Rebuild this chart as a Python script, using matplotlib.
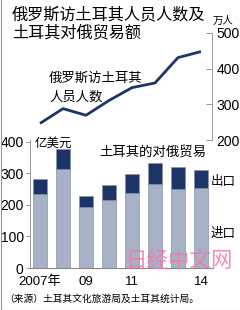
import matplotlib
matplotlib.use("Agg")
import matplotlib.pyplot as plt
from matplotlib.lines import Line2D

plt.rcParams['font.family'] = ['Noto Sans CJK SC', 'DejaVu Sans']

years = [2007, 2008, 2009, 2010, 2011, 2012, 2013, 2014]
tick_years = {2007: "2007年", 2009: "09", 2011: "11", 2014: "14"}
visitors = [246.5, 287.9, 269.4, 310.7, 346.8, 359.9, 431.0, 447.9]   # 万人
imports = [235, 314, 195, 216, 239, 266, 251, 253]                    # 亿美元
exports = [47, 65, 32, 46, 60, 67, 70, 59]                            # 亿美元

W, H = 240, 310
fig = plt.figure(figsize=(W / 100, H / 100), dpi=100)

def fx(px):
    return px / W

def fy(py):
    return 1 - py / H

num_font = ['Liberation Sans Narrow', 'Liberation Sans', 'DejaVu Sans']
navy = '#1c3566'
light = '#a8b2c7'

x = list(range(len(years)))
xlim = (-0.435, 7.48)
ax_l, ax_r = 30, 212

# Lower bar chart
ax2 = fig.add_axes([fx(ax_l), fy(268), fx(ax_r - ax_l), (268 - 140) / H])
ax2.bar(x, imports, width=0.57, color=light, edgecolor='#8a93a6', linewidth=0.5)
ax2.bar(x, exports, bottom=imports, width=0.57, color=navy, edgecolor='#8a93a6', linewidth=0.5)
ax2.set_xlim(*xlim)
ax2.set_ylim(0, 406)
ax2.set_yticks([0, 100, 200, 300, 400])
ax2.set_yticklabels(['0', '100', '200', '300', '400'], family=num_font, fontsize=10)
ax2.tick_params(axis='y', length=3, width=0.6, color='#888888', pad=1.5)
ax2.set_xticks([i for i, y in enumerate(years) if y in tick_years])
ax2.set_xticklabels([tick_years[y] for y in years if y in tick_years],
                    family=num_font + ['Noto Sans CJK SC'], fontsize=9.5)
ax2.tick_params(axis='x', length=0, pad=5.5)
for s in ['top', 'right']:
    ax2.spines[s].set_visible(False)
ax2.spines['left'].set_color('#888888')
ax2.spines['bottom'].set_color('#888888')
ax2.spines['left'].set_linewidth(0.6)
ax2.spines['bottom'].set_linewidth(0.8)
ax2.patch.set_alpha(0)

# Upper line chart
ax1 = fig.add_axes([fx(ax_l), fy(140), fx(ax_r - ax_l), (140 - 33) / H])
ax1.plot(x, visitors, color=navy, linewidth=2.0, solid_capstyle='butt')
ax1.set_xlim(*xlim)
ax1.set_ylim(200, 500)
ax1.yaxis.tick_right()
ax1.set_yticks([200, 300, 400, 500])
ax1.set_yticklabels(['200', '300', '400', '500'], family=num_font, fontsize=10)
ax1.tick_params(axis='y', direction='in', length=4, width=0.6, color='#888888', pad=3)
ax1.set_xticks([])
for s in ['top', 'left', 'bottom']:
    ax1.spines[s].set_visible(False)
ax1.spines['right'].set_color('#888888')
ax1.spines['right'].set_linewidth(0.6)
ax1.patch.set_alpha(0)

# Texts
fig.text(fx(12), fy(15), "俄罗斯访土耳其人员人数及", fontsize=11.6, va='center', ha='left')
fig.text(fx(12), fy(33), "土耳其对俄贸易额", fontsize=11.6, va='center', ha='left')
fig.text(fx(213), fy(21), "万人", fontsize=7.5, va='center', ha='left')
fig.text(fx(49), fy(78), "俄罗斯访土耳其", fontsize=9.6, va='center', ha='left')
fig.text(fx(49), fy(97), "人员人数", fontsize=9.6, va='center', ha='left')
fig.text(fx(35), fy(143), "亿美元", fontsize=9, va='center', ha='left')
fig.text(fx(99), fy(153), "土耳其的对俄贸易", fontsize=9.6, va='center', ha='left')
fig.text(fx(211), fy(182), "出口", fontsize=9, va='center', ha='left')
fig.text(fx(211), fy(233), "进口", fontsize=9, va='center', ha='left')
fig.text(fx(4), fy(299), "（来源）土耳其文化旅游局及土耳其统计局。", fontsize=7, va='center', ha='left')
fig.text(fx(179), fy(261), "日经中文网", fontsize=15.5, va='center', ha='center',
         color='#f07aa8', alpha=0.85, zorder=10)

# Border lines
fig.add_artist(Line2D([fx(0.5), fx(0.5)], [fy(0), fy(309.5)], color='#999999', linewidth=0.8))
fig.add_artist(Line2D([fx(0.5), fx(240)], [fy(309.5), fy(309.5)], color='#999999', linewidth=0.8))

fig.savefig("out.png", dpi=100)
